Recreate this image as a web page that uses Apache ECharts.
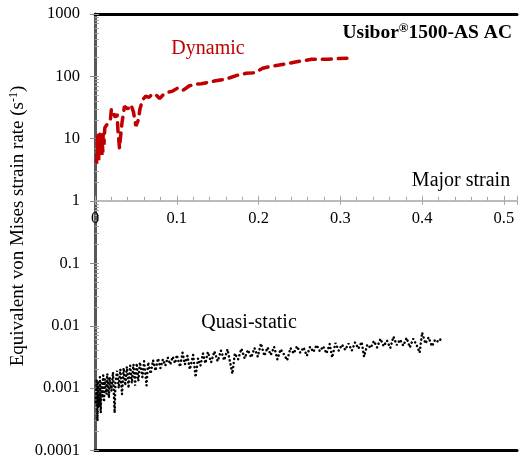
<!DOCTYPE html>
<html>
<head>
<meta charset="utf-8">
<script src="https://cdn.jsdelivr.net/npm/echarts@6/dist/echarts.min.js"></script>
<style>
  html, body { margin: 0; padding: 0; background: #fff; }
  #chart { width: 520px; height: 459px; }
</style>
</head>
<body>
<div id="chart"></div>
<script>
// Dynamic test: major strain vs. equivalent strain rate (s^-1)
const dynStrain = [0.002, 0.003, 0.0035, 0.004, 0.0045, 0.005, 0.0055, 0.006, 0.0065, 0.007, 0.0075, 0.008, 0.0085, 0.009, 0.0095, 0.010, 0.011, 0.012, 0.013, 0.016, 0.019, 0.020, 0.022, 0.025, 0.027, 0.028, 0.030, 0.031, 0.033, 0.036, 0.040, 0.044, 0.047, 0.050, 0.053, 0.055, 0.058, 0.062, 0.066, 0.070, 0.075, 0.079, 0.083, 0.088, 0.095, 0.102, 0.108, 0.115, 0.122, 0.130, 0.138, 0.146, 0.155, 0.165, 0.175, 0.185, 0.195, 0.205, 0.215, 0.225, 0.235, 0.245, 0.255, 0.265, 0.275, 0.285, 0.295, 0.308];
const dynRate   = [4.2, 11, 5, 12, 4.5, 11.5, 6, 12, 5.5, 11, 6, 10.5, 5.5, 10, 6, 12, 8, 15, 16, 18, 21, 30, 26, 22, 25, 14, 7, 10, 18, 33, 30, 35, 27, 16, 20, 30, 42, 48, 46, 52, 50, 44, 50, 55, 58, 66, 60, 70, 75, 76, 80, 84, 88, 95, 105, 112, 114, 135, 145, 152, 160, 170, 178, 188, 187, 188, 192, 195];

// Quasi-static test: major strain vs. equivalent strain rate (s^-1)
const qsStrain = [0.001, 0.002, 0.003, 0.004, 0.005, 0.006, 0.007, 0.008, 0.009, 0.010, 0.011, 0.012, 0.014, 0.015, 0.017, 0.018, 0.020, 0.022, 0.024, 0.025, 0.027, 0.029, 0.031, 0.033, 0.035, 0.037, 0.039, 0.041, 0.043, 0.045, 0.047, 0.049, 0.051, 0.053, 0.055, 0.058, 0.060, 0.063, 0.065, 0.068, 0.071, 0.074, 0.077, 0.080, 0.083, 0.086, 0.089, 0.092, 0.095, 0.098, 0.100, 0.104, 0.107, 0.110, 0.113, 0.116, 0.120, 0.123, 0.126, 0.129, 0.132, 0.135, 0.138, 0.142, 0.146, 0.150, 0.154, 0.158, 0.162, 0.166, 0.168, 0.171, 0.175, 0.179, 0.183, 0.187, 0.191, 0.195, 0.199, 0.203, 0.207, 0.211, 0.215, 0.219, 0.223, 0.227, 0.231, 0.235, 0.239, 0.243, 0.247, 0.251, 0.255, 0.259, 0.263, 0.267, 0.271, 0.275, 0.279, 0.283, 0.287, 0.290, 0.294, 0.298, 0.302, 0.306, 0.310, 0.314, 0.318, 0.322, 0.326, 0.329, 0.333, 0.337, 0.341, 0.345, 0.349, 0.353, 0.357, 0.361, 0.365, 0.369, 0.373, 0.377, 0.381, 0.385, 0.389, 0.393, 0.397, 0.400, 0.404, 0.408, 0.412, 0.416, 0.420, 0.425];
const qsRate   = [0.0006, 0.0014, 0.0003, 0.0013, 0.0005, 0.0015, 0.0004, 0.0012, 0.0007, 0.0016, 0.0006, 0.0014, 0.0008, 0.0017, 0.0007, 0.0015, 0.0009, 0.0018, 0.0004, 0.0012, 0.0019, 0.0010, 0.0020, 0.0008, 0.0021, 0.0011, 0.0022, 0.0010, 0.0023, 0.0012, 0.0024, 0.0011, 0.0025, 0.0013, 0.0026, 0.0015, 0.0027, 0.0011, 0.0026, 0.0017, 0.0028, 0.0019, 0.0030, 0.0021, 0.0029, 0.0023, 0.0031, 0.0024, 0.0032, 0.0025, 0.0034, 0.0022, 0.0037, 0.0024, 0.0033, 0.0020, 0.0034, 0.0015, 0.0030, 0.0023, 0.0036, 0.0025, 0.0038, 0.0026, 0.0039, 0.0027, 0.0040, 0.0028, 0.0042, 0.0023, 0.0017, 0.0036, 0.0029, 0.0043, 0.0030, 0.0041, 0.0031, 0.0044, 0.0032, 0.0052, 0.0033, 0.0045, 0.0034, 0.0046, 0.0029, 0.0042, 0.0035, 0.0028, 0.0044, 0.0036, 0.0047, 0.0037, 0.0045, 0.0033, 0.0046, 0.0038, 0.0049, 0.0039, 0.0047, 0.0036, 0.0051, 0.0031, 0.0053, 0.0040, 0.0050, 0.0041, 0.0052, 0.0040, 0.0054, 0.0043, 0.0055, 0.0032, 0.0050, 0.0044, 0.0057, 0.0045, 0.0062, 0.0047, 0.0058, 0.0044, 0.0067, 0.0049, 0.0060, 0.0048, 0.0064, 0.0045, 0.0062, 0.0050, 0.0037, 0.0078, 0.0052, 0.0065, 0.0047, 0.0060, 0.0055, 0.0067];

const xTicks = [0, 0.1, 0.2, 0.3, 0.4, 0.5];
const yTicks = [0.0001, 0.001, 0.01, 0.1, 1, 10, 100, 1000];

const zip = (a, b) => a.map((v, i) => [v, b[i]]);

const FONT = '"Liberation Serif", "Times New Roman", serif';
const GRID = { left: 95, top: 14, right: 0, bottom: 8 };
const CHART_H = 459;
const X_MAX = 0.516;
const yMin = yTicks[0], yMax = yTicks[yTicks.length - 1];
// place the strain axis where the rate axis passes through 1
const plotH = CHART_H - GRID.top - GRID.bottom;
const crossOffset = -plotH * Math.log10(1 / yMin) / Math.log10(yMax / yMin);

const hidden = { axisLabel: { show: false }, splitLine: { show: false } };

const chart = echarts.init(document.getElementById('chart'), null, { renderer: 'canvas' });

chart.setOption({
  animation: false,
  backgroundColor: '#ffffff',
  grid: GRID,
  xAxis: [
    {
      // strain axis crossing at rate = 1: line, labels, major ticks below
      type: 'value', min: 0, max: X_MAX, interval: 0.1,
      position: 'bottom', offset: crossOffset,
      axisLine: { onZero: false, lineStyle: { color: '#a6a6a6', width: 1.5 } },
      axisTick: { show: true, length: 4, lineStyle: { color: '#a6a6a6' } },
      splitLine: { show: false },
      axisLabel: {
        margin: 9, color: '#000', fontFamily: FONT, fontSize: 16.5,
        formatter: v => (xTicks.some(t => Math.abs(t - v) < 1e-9) ? String(+v.toFixed(1)) : '')
      }
    },
    {
      // same axis: major and minor ticks pointing up
      type: 'value', min: 0, max: X_MAX, interval: 0.1,
      position: 'bottom', offset: crossOffset,
      axisLine: { show: false, onZero: false },
      axisTick: { show: true, inside: true, length: 5, lineStyle: { color: '#a6a6a6' } },
      minorTick: { show: true, splitNumber: 5, length: 4, lineStyle: { color: '#a6a6a6' } },
      ...hidden
    },
    {
      type: 'value', min: 0, max: X_MAX, position: 'top',
      axisLine: { onZero: false, lineStyle: { color: '#000', width: 3 } },
      axisTick: { show: false }, ...hidden
    },
    {
      type: 'value', min: 0, max: X_MAX, position: 'bottom',
      axisLine: { onZero: false, lineStyle: { color: '#000', width: 3 } },
      axisTick: { show: false }, ...hidden
    }
  ],
  yAxis: [
    {
      type: 'log', logBase: 10, min: yMin, max: yMax,
      axisLine: { onZero: false, lineStyle: { color: '#595959', width: 3 } },
      axisTick: { show: true, length: 5, lineStyle: { color: '#8c8c8c' } },
      splitLine: { show: false },
      axisLabel: {
        margin: 15, color: '#000', fontFamily: FONT, fontSize: 16.5,
        formatter: v => String(+(+v).toPrecision(6))
      }
    },
    {
      // same rate axis: minor ticks on the plot side
      type: 'log', logBase: 10, min: yMin, max: yMax, position: 'left',
      axisLine: { show: false, onZero: false },
      axisTick: { show: true, inside: true, length: 4, lineStyle: { color: '#a6a6a6' } },
      minorTick: { show: true, splitNumber: 9, length: 4, lineStyle: { color: '#a6a6a6' } },
      ...hidden
    }
  ],
  graphic: [
    {
      type: 'text', x: 18, y: 226, rotation: Math.PI / 2,
      style: {
        text: '{a|Equivalent von Mises strain rate (s}{s|-1}{a|)}',
        align: 'center', verticalAlign: 'middle',
        rich: {
          a: { fontFamily: FONT, fontSize: 19, fill: '#000', lineHeight: 22 },
          s: { fontFamily: FONT, fontSize: 12, fill: '#000', lineHeight: 22, padding: [0, 0, 9, 0] }
        }
      }
    },
    {
      type: 'text', x: 512, y: 33,
      style: {
        text: '{a|Usibor}{s|®}{a|1500-AS AC}',
        align: 'right', verticalAlign: 'middle',
        rich: {
          a: { fontFamily: FONT, fontSize: 19.5, fontWeight: 'bold', fill: '#000', lineHeight: 22 },
          s: { fontFamily: FONT, fontSize: 13, fontWeight: 'bold', fill: '#000', lineHeight: 22, padding: [0, 0, 9, 0] }
        }
      }
    },
    {
      type: 'text', x: 208, y: 49,
      style: { text: 'Dynamic', fontFamily: FONT, fontSize: 20, fill: '#c00000', align: 'center', verticalAlign: 'middle' }
    },
    {
      type: 'text', x: 461, y: 181,
      style: { text: 'Major strain', fontFamily: FONT, fontSize: 20, fill: '#000', align: 'center', verticalAlign: 'middle' }
    },
    {
      type: 'text', x: 249, y: 323,
      style: { text: 'Quasi-static', fontFamily: FONT, fontSize: 20, fill: '#000', align: 'center', verticalAlign: 'middle' }
    }
  ],
  series: [
    {
      name: 'Quasi-static', type: 'line', xAxisIndex: 0, yAxisIndex: 0,
      data: zip(qsStrain, qsRate), showSymbol: false, smooth: false,
      lineStyle: { color: '#000', width: 2.5, type: [0.1, 4], cap: 'round' }
    },
    {
      name: 'Dynamic', type: 'line', xAxisIndex: 0, yAxisIndex: 0,
      data: zip(dynStrain, dynRate), showSymbol: false, smooth: false,
      lineStyle: { color: '#c00000', width: 3.5, type: [9, 7], cap: 'round' }
    }
  ]
});
</script>
</body>
</html>
